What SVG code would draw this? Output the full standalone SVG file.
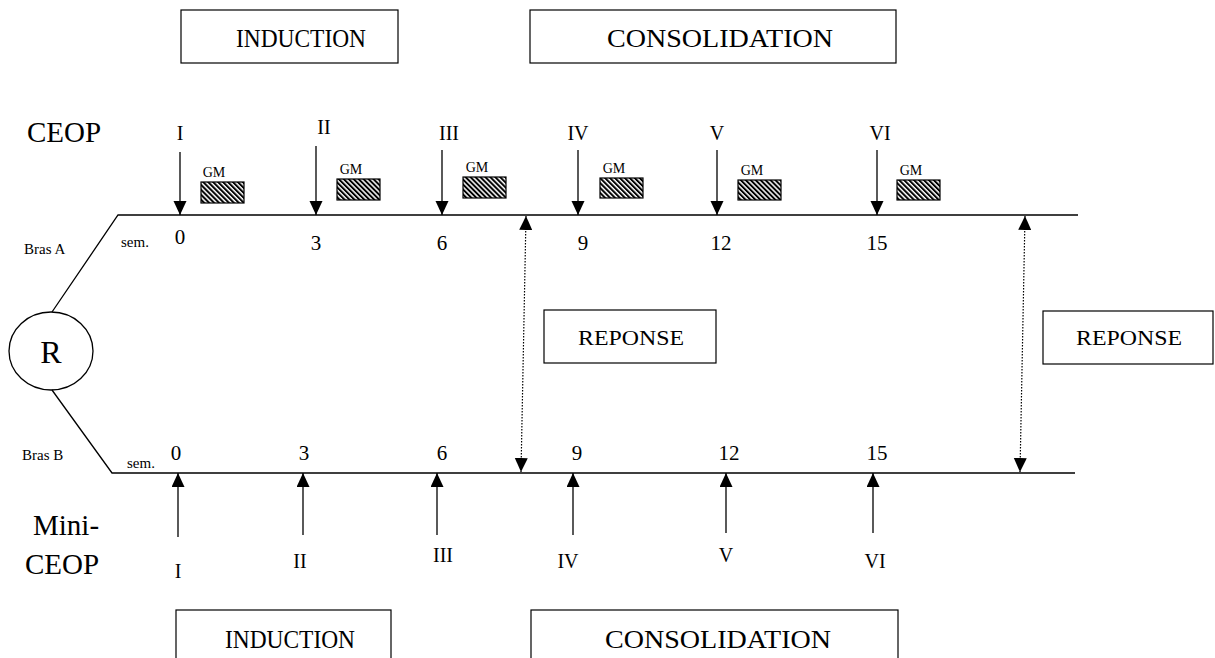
<svg xmlns="http://www.w3.org/2000/svg" width="1215" height="658" viewBox="0 0 1215 658">
  <style>
    text { font-family: "Liberation Serif", "Times New Roman", serif; fill: #000; }
    .box { fill: #fff; stroke: #000; stroke-width: 1.2; }
    .phase { font-size: 26px; text-anchor: middle; }
    .big { font-size: 29px; }
    .rom { font-size: 20px; text-anchor: middle; }
    .num { font-size: 21px; text-anchor: middle; }
    .small { font-size: 15px; }
    .gm { font-size: 14px; text-anchor: middle; }
    .resp { font-size: 22px; text-anchor: middle; }
    .line { stroke: #000; stroke-width: 1.3; fill: none; }
    .arr { stroke: #000; stroke-width: 1.3; fill: none; marker-end: url(#head); }
    .dot { stroke: #000; stroke-width: 1.2; fill: none; stroke-dasharray: 1.5 1.5; marker-start: url(#headS); marker-end: url(#head); }
    .gmr { fill: url(#hatch); stroke: #000; stroke-width: 1.2; }
  </style>
  <defs>
    <marker id="head" markerWidth="14" markerHeight="16" refX="14" refY="6.5" orient="auto" markerUnits="userSpaceOnUse">
      <path d="M0,0 L14,6.5 L0,13 Z" fill="#000"/>
    </marker>
    <marker id="headS" markerWidth="14" markerHeight="16" refX="0" refY="6.5" orient="auto" markerUnits="userSpaceOnUse">
      <path d="M14,0 L0,6.5 L14,13 Z" fill="#000"/>
    </marker>
    <pattern id="hatch" width="3.5" height="3.5" patternUnits="userSpaceOnUse" patternTransform="rotate(-45)">
      <rect width="3.5" height="3.5" fill="#fff"/>
      <rect width="2" height="3.5" fill="#000"/>
    </pattern>
  </defs>

  <!-- phase boxes -->
  <g id="induction-top"><rect class="box" x="181" y="10" width="217" height="53"/><text class="phase" x="301" y="47" textLength="130" lengthAdjust="spacingAndGlyphs">INDUCTION</text></g>
  <g id="consolidation-top"><rect class="box" x="530" y="10" width="366" height="53"/><text class="phase" x="720" y="47" textLength="226" lengthAdjust="spacingAndGlyphs">CONSOLIDATION</text></g>
  <g id="induction-bottom"><rect class="box" x="176" y="610" width="215" height="60"/><text class="phase" x="290" y="648" textLength="130" lengthAdjust="spacingAndGlyphs">INDUCTION</text></g>
  <g id="consolidation-bottom"><rect class="box" x="531" y="610" width="367" height="60"/><text class="phase" x="718" y="648" textLength="226" lengthAdjust="spacingAndGlyphs">CONSOLIDATION</text></g>

  <!-- side labels -->
  <g id="ceop"><text class="big" x="27" y="142">CEOP</text></g>
  <g id="mini-ceop"><text class="big" x="33" y="535">Mini-</text><text class="big" x="25" y="574">CEOP</text></g>
  <g id="bras-a"><text class="small" x="24" y="254">Bras A</text></g>
  <g id="bras-b"><text class="small" x="22" y="460">Bras B</text></g>
  <g id="randomisation"><ellipse cx="51" cy="351" rx="42" ry="39" fill="#fff" stroke="#000" stroke-width="1.3"/><text x="51" y="363" font-size="32" text-anchor="middle">R</text></g>

  <!-- arm A timeline -->
  <g id="arm-a">
    <text class="small" x="121" y="247">sem.</text>
    <text class="num" x="180" y="244">0</text>
    <text class="num" x="316" y="250">3</text>
    <text class="num" x="442" y="250">6</text>
    <text class="num" x="583" y="250">9</text>
    <text class="num" x="721" y="250">12</text>
    <text class="num" x="877" y="250">15</text>
    <text class="rom" x="180" y="140">I</text>
    <text class="rom" x="324" y="134">II</text>
    <text class="rom" x="449" y="140">III</text>
    <text class="rom" x="578" y="140">IV</text>
    <text class="rom" x="717" y="140">V</text>
    <text class="rom" x="880" y="140">VI</text>
  </g>

  <!-- GM blocks -->
  <g id="gm1"><text class="gm" x="214" y="177">GM</text><rect class="gmr" x="201" y="182" width="43" height="21"/></g>
  <g id="gm2"><text class="gm" x="351" y="174">GM</text><rect class="gmr" x="337" y="179" width="43" height="21"/></g>
  <g id="gm3"><text class="gm" x="477" y="172">GM</text><rect class="gmr" x="463" y="177" width="43" height="21"/></g>
  <g id="gm4"><text class="gm" x="614" y="173">GM</text><rect class="gmr" x="600" y="178" width="43" height="20"/></g>
  <g id="gm5"><text class="gm" x="752" y="175">GM</text><rect class="gmr" x="738" y="180" width="43" height="20"/></g>
  <g id="gm6"><text class="gm" x="911" y="175">GM</text><rect class="gmr" x="897" y="180" width="43" height="20"/></g>

  <!-- arm B timeline -->
  <g id="arm-b">
    <text class="small" x="127" y="468">sem.</text>
    <text class="num" x="176" y="460">0</text>
    <text class="num" x="304" y="460">3</text>
    <text class="num" x="442" y="460">6</text>
    <text class="num" x="577" y="460">9</text>
    <text class="num" x="729" y="460">12</text>
    <text class="num" x="877" y="460">15</text>
    <text class="rom" x="178" y="578">I</text>
    <text class="rom" x="300" y="568">II</text>
    <text class="rom" x="443" y="562">III</text>
    <text class="rom" x="568" y="568">IV</text>
    <text class="rom" x="726" y="562">V</text>
    <text class="rom" x="875" y="568">VI</text>
  </g>

  <!-- response boxes -->
  <g id="reponse-1"><rect class="box" x="544" y="310" width="172" height="53"/><text class="resp" x="631" y="345" textLength="106" lengthAdjust="spacingAndGlyphs">REPONSE</text></g>
  <g id="reponse-2"><rect class="box" x="1043" y="311" width="170" height="53"/><text class="resp" x="1129" y="345" textLength="106" lengthAdjust="spacingAndGlyphs">REPONSE</text></g>

  <!-- connectors -->
  <g id="connectors">
    <path class="line" d="M52,312 L118,215 L1078,215"/>
    <path class="line" d="M52,390 L112,473 L1075,473"/>
    <line class="arr" x1="180" y1="152" x2="180" y2="215"/>
    <line class="arr" x1="316" y1="146" x2="316" y2="215"/>
    <line class="arr" x1="442" y1="150" x2="442" y2="215"/>
    <line class="arr" x1="578" y1="150" x2="578" y2="215"/>
    <line class="arr" x1="717" y1="150" x2="717" y2="215"/>
    <line class="arr" x1="877" y1="150" x2="877" y2="215"/>
    <line class="arr" x1="178" y1="537" x2="178" y2="473"/>
    <line class="arr" x1="303" y1="535" x2="303" y2="473"/>
    <line class="arr" x1="437" y1="535" x2="437" y2="473"/>
    <line class="arr" x1="573" y1="535" x2="573" y2="473"/>
    <line class="arr" x1="726" y1="533" x2="726" y2="473"/>
    <line class="arr" x1="873" y1="533" x2="873" y2="473"/>
    <line class="dot" x1="526" y1="216" x2="521" y2="472"/>
    <line class="dot" x1="1025" y1="216" x2="1020" y2="472"/>
  </g>
</svg>
